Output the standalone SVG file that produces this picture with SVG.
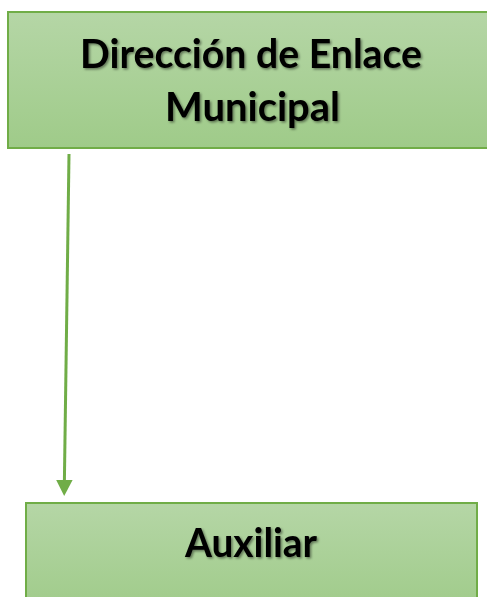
<svg xmlns="http://www.w3.org/2000/svg" width="487" height="597" viewBox="0 0 487 597">
<defs>
<linearGradient id="g" x1="0" y1="0" x2="0" y2="1">
<stop offset="0" stop-color="#b5d6a6"/>
<stop offset="1" stop-color="#9fcb89"/>
</linearGradient>
<filter id="sh" x="-10%" y="-20%" width="120%" height="150%">
<feDropShadow dx="1.5" dy="1.5" stdDeviation="1.2" flood-color="#000" flood-opacity="0.45"/>
</filter>
<style>
.box{fill:url(#g);stroke:#70ad47;stroke-width:2}
.t{font-family:Lato,"Open Sans","Liberation Sans",sans-serif;font-weight:bold;font-size:41px;fill:#000;text-anchor:middle;filter:url(#sh)}
.c{stroke:#70ad47;stroke-width:3;fill:none}
.ah{fill:#70ad47}
</style>
</defs>
<g id="node-direccion">
<rect class="box" x="8" y="12" width="490" height="136"/>
<text class="t" x="251" y="68" textLength="342" lengthAdjust="spacingAndGlyphs">Dirección de Enlace</text>
<text class="t" x="252.5" y="121" textLength="175" lengthAdjust="spacingAndGlyphs">Municipal</text>
</g>
<g id="node-auxiliar">
<rect class="box" x="26" y="503" width="451" height="110"/>
<text class="t" x="251" y="557" textLength="132" lengthAdjust="spacingAndGlyphs">Auxiliar</text>
</g>
<g id="connectors">
<path class="c" d="M69,154 L64.4,481"/>
<polygon class="ah" points="56.2,480 72.6,480 64.2,496"/>
</g>
</svg>
